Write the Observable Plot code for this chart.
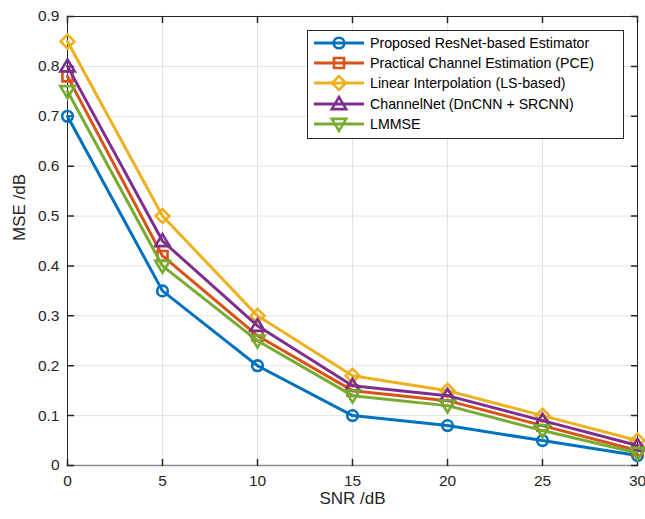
<!DOCTYPE html>
<html><head><meta charset="utf-8">
<script src="https://cdn.jsdelivr.net/npm/d3@7"></script>
<script src="https://cdn.jsdelivr.net/npm/@observablehq/plot@0.6"></script>
<style>
body{margin:0;background:#fff;font-family:"Liberation Sans",Arial,sans-serif;}
#wrap{position:relative;width:645px;height:519px;}
#legend{position:absolute;left:307px;top:30px;width:317px;height:109px;border:1px solid #262626;background:#fff;box-sizing:border-box;padding-top:2px;}
.row{display:flex;align-items:center;height:20.2px;}
.row svg{flex:none;margin-left:5px;}
.row span{font-size:14.2px;color:#000;margin-left:5px;white-space:nowrap;}
</style>
</head><body>
<div id="wrap"><div id="chart"></div><div id="legend"></div></div>
<script>
const snr = [0, 5, 10, 15, 20, 25, 30];
const proposed   = [0.70, 0.35, 0.20, 0.10, 0.08, 0.05, 0.02];
const pce        = [0.78, 0.42, 0.26, 0.15, 0.13, 0.08, 0.03];
const linear     = [0.85, 0.50, 0.30, 0.18, 0.15, 0.10, 0.05];
const channelNet = [0.80, 0.45, 0.28, 0.16, 0.14, 0.09, 0.04];
const lmmse      = [0.75, 0.40, 0.25, 0.14, 0.12, 0.07, 0.025];
const seriesNames = ["Proposed ResNet-based Estimator","Practical Channel Estimation (PCE)","Linear Interpolation (LS-based)","ChannelNet (DnCNN + SRCNN)","LMMSE"];
const seriesValues = [proposed, pce, linear, channelNet, lmmse];
const seriesColors = ["#0072BD","#D95319","#EDB120","#7E2F8E","#77AC30"];
const xTicks = [0, 5, 10, 15, 20, 25, 30];
const yTicks = [0, 0.1, 0.2, 0.3, 0.4, 0.5, 0.6, 0.7, 0.8, 0.9];
const xLabel = "SNR /dB";
const yLabel = "MSE /dB";

const symCircle = {draw(c, s){ const r = Math.sqrt(s/Math.PI); c.moveTo(r,0); c.arc(0,0,r,0,2*Math.PI); }};
const symSquare = {draw(c, s){ const h = Math.sqrt(s/Math.PI)*0.95; c.moveTo(-h,-h); c.lineTo(h,-h); c.lineTo(h,h); c.lineTo(-h,h); c.closePath(); }};
const symDiamond = {draw(c, s){ const a = Math.sqrt(s/Math.PI)*1.3; c.moveTo(0,-a); c.lineTo(a,0); c.lineTo(0,a); c.lineTo(-a,0); c.closePath(); }};
const symTriUp = {draw(c, s){ const a = Math.sqrt(s/Math.PI)*1.3; c.moveTo(0,-a); c.lineTo(a*1.05,a*0.75); c.lineTo(-a*1.05,a*0.75); c.closePath(); }};
const symTriDown = {draw(c, s){ const a = Math.sqrt(s/Math.PI)*1.3; c.moveTo(0,a); c.lineTo(a*1.05,-a*0.75); c.lineTo(-a*1.05,-a*0.75); c.closePath(); }};
const seriesSymbols = [symCircle, symSquare, symDiamond, symTriUp, symTriDown];

const tickShape = {draw(c, l){ c.moveTo(0,0); c.lineTo(0,-l); }};

const marks = [
  Plot.gridX(xTicks, {stroke:"#e2e2e2", strokeOpacity:1}),
  Plot.gridY(yTicks, {stroke:"#e2e2e2", strokeOpacity:1}),
  Plot.frame({stroke:"#262626"}),
  Plot.ruleY([0], {stroke:"#8c8c8c", strokeWidth:1.4}),
  Plot.vector(xTicks, {x:d=>d, frameAnchor:"bottom", length:6, anchor:"start", shape:tickShape, stroke:"#262626"}),
  Plot.vector(xTicks, {x:d=>d, frameAnchor:"top", length:6, rotate:180, anchor:"start", shape:tickShape, stroke:"#262626"}),
  Plot.vector(yTicks, {y:d=>d, frameAnchor:"left", length:6, rotate:90, anchor:"start", shape:tickShape, stroke:"#262626"}),
  Plot.vector(yTicks, {y:d=>d, frameAnchor:"right", length:6, rotate:-90, anchor:"start", shape:tickShape, stroke:"#262626"}),
  Plot.axisX(xTicks, {tickSize:0, tickPadding:9, label:null, fontSize:15.5, fill:"#262626"}),
  Plot.axisY(yTicks, {tickSize:0, tickPadding:8, label:null, fontSize:15.5, fill:"#262626", tickFormat:d=>String(d)}),
  Plot.text([xLabel], {frameAnchor:"bottom", dy:38, fontSize:17, fill:"#262626"}),
  Plot.text([yLabel], {frameAnchor:"left", dx:-48, rotate:-90, fontSize:17, fill:"#262626"})
];
seriesValues.forEach((vals, i) => {
  const data = snr.map((x, j) => ({x, y: vals[j]}));
  marks.push(Plot.line(data, {x:"x", y:"y", stroke:seriesColors[i], strokeWidth:3}));
  marks.push(Plot.dot(data, {x:"x", y:"y", stroke:seriesColors[i], strokeWidth:2.6, fill:"none", r:5.3, symbol:seriesSymbols[i]}));
});

const chart = Plot.plot({
  width:645, height:519,
  marginLeft:67, marginRight:8, marginTop:16, marginBottom:54,
  style:{fontFamily:'"Liberation Sans", Arial, sans-serif', background:"#fff"},
  x:{domain:[0,30]},
  y:{domain:[0,0.9]},
  marks
});
document.getElementById("chart").appendChild(chart);

const legend = document.getElementById("legend");
seriesNames.forEach((name, i) => {
  const row = document.createElement("div");
  row.className = "row";
  const p = d3.path();
  seriesSymbols[i].draw(p, Math.PI*5.3*5.3);
  row.innerHTML = `<svg width="52" height="20"><line x1="1" x2="51" y1="10" y2="10" stroke="${seriesColors[i]}" stroke-width="3"/><path transform="translate(26,10)" d="${p.toString()}" fill="none" stroke="${seriesColors[i]}" stroke-width="2.6"/></svg><span>${name}</span>`;
  legend.appendChild(row);
});
</script>
</body></html>
